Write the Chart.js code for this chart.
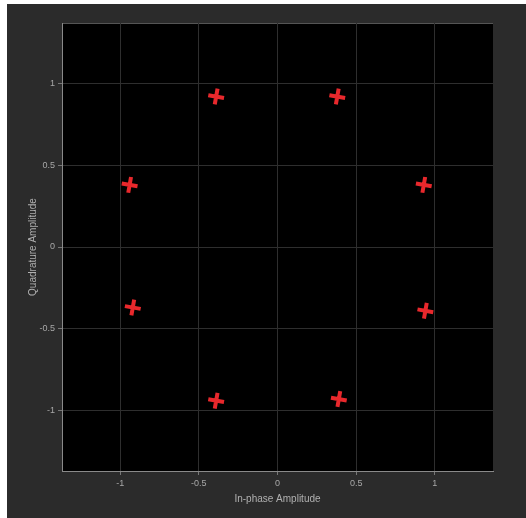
<!DOCTYPE html>
<html>
<head>
    <title>Constellation Diagram</title>
    <script src="https://cdn.jsdelivr.net/npm/chart.js"></script>
    <style>
        body {
            background: #ffffff;
            margin: 0;
            padding: 0;
            font-family: "Liberation Sans", Arial, sans-serif;
        }
        .frame {
            position: absolute;
            left: 7px;
            top: 4px;
            width: 519px;
            height: 514px;
            background: #2b2b2b;
        }
    </style>
</head>
<body>
    <div class="frame">
        <canvas id="scope" width="519" height="514"></canvas>
    </div>

    <script>
        // symbol positions
        const inPhase    = [-0.39, 0.38, -0.94, 0.93, -0.92, 0.94, -0.39, 0.39];
        const quadrature = [0.92, 0.92, 0.38, 0.38, -0.37, -0.39, -0.94, -0.93];
        const xTicks = [-1, -0.5, 0, 0.5, 1];
        const yTicks = [-1, -0.5, 0, 0.5, 1];
        const axisLimit = 1.37;

        const points = inPhase.map((v, i) => ({ x: v, y: quadrature[i] }));

        // black plot area
        const plotBackground = {
            id: 'plotBackground',
            beforeDraw(chart) {
                const { ctx, chartArea: a } = chart;
                ctx.save();
                ctx.fillStyle = '#000000';
                ctx.fillRect(a.left, a.top, a.right - a.left, a.bottom - a.top);
                ctx.strokeStyle = '#555555';
                ctx.lineWidth = 1;
                ctx.beginPath();
                ctx.moveTo(a.left, a.top + 0.5);
                ctx.lineTo(a.right, a.top + 0.5);
                ctx.stroke();
                ctx.restore();
            }
        };

        const tickFont = { family: '"Liberation Sans", Arial, sans-serif', size: 9 };
        const titleFont = { family: '"Liberation Sans", Arial, sans-serif', size: 10 };

        new Chart(document.getElementById('scope'), {
            type: 'scatter',
            data: {
                datasets: [{
                    label: 'Symbols',
                    data: points,
                    pointStyle: 'cross',
                    pointRadius: 8,
                    pointBorderWidth: 4,
                    pointRotation: 10,
                    borderColor: '#e8282c',
                    backgroundColor: '#e8282c'
                }]
            },
            plugins: [plotBackground],
            options: {
                responsive: false,
                animation: false,
                layout: { padding: { top: 19, right: 33, left: 16, bottom: 9 } },
                plugins: {
                    legend: { display: false },
                    tooltip: { enabled: false }
                },
                scales: {
                    x: {
                        type: 'linear',
                        min: -axisLimit,
                        max: axisLimit,
                        afterBuildTicks: s => { s.ticks = xTicks.map(v => ({ value: v })); },
                        afterFit: s => { s.height = 38; },
                        grid: { color: '#2e2e2e', tickColor: '#777777', tickLength: 4 },
                        border: { color: '#8a8a8a', width: 1 },
                        ticks: { color: '#a8a8a8', font: tickFont, padding: 3, callback: v => String(v) },
                        title: { display: true, text: 'In-phase Amplitude', color: '#b0b0b0', font: titleFont, padding: { top: 2 } }
                    },
                    y: {
                        type: 'linear',
                        min: -axisLimit,
                        max: axisLimit,
                        afterBuildTicks: s => { s.ticks = yTicks.map(v => ({ value: v })); },
                        afterFit: s => { s.width = 39; },
                        grid: { color: '#2e2e2e', tickColor: '#777777', tickLength: 4 },
                        border: { color: '#8a8a8a', width: 1 },
                        ticks: { color: '#a8a8a8', font: tickFont, padding: 3, callback: v => String(v) },
                        title: { display: true, text: 'Quadrature Amplitude', color: '#b0b0b0', font: titleFont, padding: { bottom: 4 } }
                    }
                }
            }
        });
    </script>
</body>
</html>
